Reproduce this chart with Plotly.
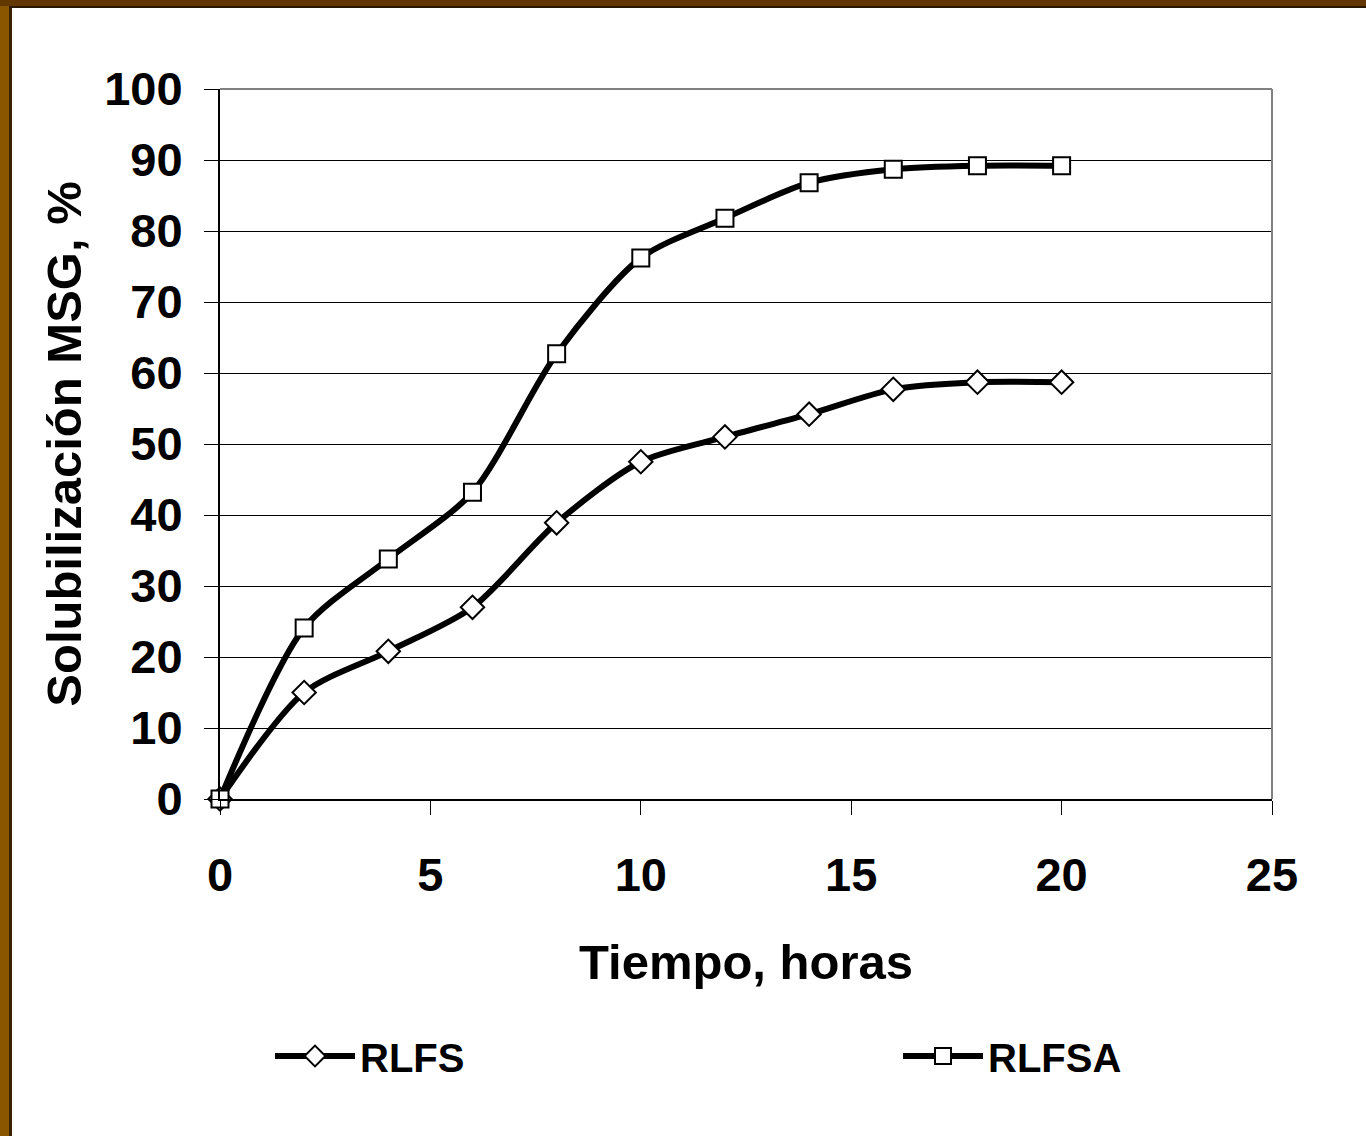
import plotly.graph_objects as go

tiempo = [0, 2, 4, 6, 8, 10, 12, 14, 16, 18, 20]
rlfs = [0, 15.0, 20.8, 27.0, 38.9, 47.5, 51.0, 54.2, 57.7, 58.7, 58.7]
rlfsa = [0, 24.1, 33.8, 43.2, 62.7, 76.2, 81.8, 86.8, 88.7, 89.2, 89.2]
x_ticks = [0, 5, 10, 15, 20, 25]
y_ticks = [0, 10, 20, 30, 40, 50, 60, 70, 80, 90, 100]

W, H = 1366, 1136
L, R, T, B = 220, 94, 89, 337
pw, ph = W - L - R, H - T - B

def px(x):
    return (x - L) / pw

def py(y):
    return (H - B - y) / ph

FONT = "Arial, Liberation Sans, sans-serif"

fig = go.Figure()
fig.add_trace(go.Scatter(
    x=tiempo, y=rlfs, name="RLFS", mode="lines+markers", legend="legend",
    line=dict(color="black", width=6, shape="spline", smoothing=0.8),
    marker=dict(symbol="diamond", size=18, color="white",
                line=dict(color="black", width=2)),
    cliponaxis=False,
))
fig.add_trace(go.Scatter(
    x=tiempo, y=rlfsa, name="RLFSA", mode="lines+markers", legend="legend2",
    line=dict(color="black", width=6, shape="spline", smoothing=0.8),
    marker=dict(symbol="square", size=17, color="white",
                line=dict(color="black", width=2)),
    cliponaxis=False,
))

shapes = [
    dict(type="line", xref="paper", yref="paper", x0=0, x1=1, y0=1, y1=1,
         line=dict(color="#808080", width=2), layer="above"),
    dict(type="line", xref="paper", yref="paper", x0=1, x1=1, y0=0, y1=1,
         line=dict(color="#808080", width=2), layer="above"),
    dict(type="rect", xref="paper", yref="paper", x0=px(0), x1=px(11),
         y0=py(H), y1=py(0), fillcolor="#8a5600", line=dict(width=0)),
    dict(type="rect", xref="paper", yref="paper", x0=px(9), x1=px(12),
         y0=py(H), y1=py(6), fillcolor="#3a2200", line=dict(width=0)),
    dict(type="rect", xref="paper", yref="paper", x0=px(0), x1=px(W),
         y0=py(6), y1=py(0), fillcolor="#633800", line=dict(width=0)),
    dict(type="rect", xref="paper", yref="paper", x0=px(9), x1=px(W),
         y0=py(8), y1=py(6), fillcolor="#2a1800", line=dict(width=0)),
]

leg_common = dict(
    orientation="h", yanchor="middle", y=py(1056), xanchor="left",
    font=dict(family=FONT, size=40, color="black", weight="bold"),
    itemwidth=80, bgcolor="rgba(0,0,0,0)",
)

fig.update_layout(
    width=W, height=H,
    margin=dict(l=L, r=R, t=T, b=B, autoexpand=False),
    paper_bgcolor="white", plot_bgcolor="white",
    font=dict(family=FONT, color="black"),
    shapes=shapes,
    showlegend=True,
    legend=dict(x=px(270), **leg_common),
    legend2=dict(x=px(898), **leg_common),
    xaxis=dict(
        range=[0, 25], tickvals=x_ticks, ticktext=[str(v) for v in x_ticks],
        showgrid=False, zeroline=False,
        showline=True, linecolor="black", linewidth=2,
        ticks="outside", ticklen=14, tickwidth=1, tickcolor="black",
        tickfont=dict(family=FONT, size=47, color="black", weight="bold"),
        ticklabelstandoff=20,
        title=dict(text="Tiempo, horas", standoff=44,
                   font=dict(family=FONT, size=49, color="black", weight="bold")),
        automargin=False,
    ),
    yaxis=dict(
        range=[0, 100], tickvals=y_ticks, ticktext=[str(v) for v in y_ticks],
        showgrid=True, gridcolor="black", gridwidth=1, zeroline=False,
        showline=True, linecolor="black", linewidth=2,
        ticks="outside", ticklen=14, tickwidth=1, tickcolor="black",
        tickfont=dict(family=FONT, size=47, color="black", weight="bold"),
        ticklabelstandoff=12,
        title=dict(text="Solubilización MSG, %", standoff=7,
                   font=dict(family=FONT, size=49, color="black", weight="bold")),
        automargin=False,
    ),
)

fig.write_html("out.html", config={"displayModeBar": False},
               post_script="document.body.style.margin='0';")
